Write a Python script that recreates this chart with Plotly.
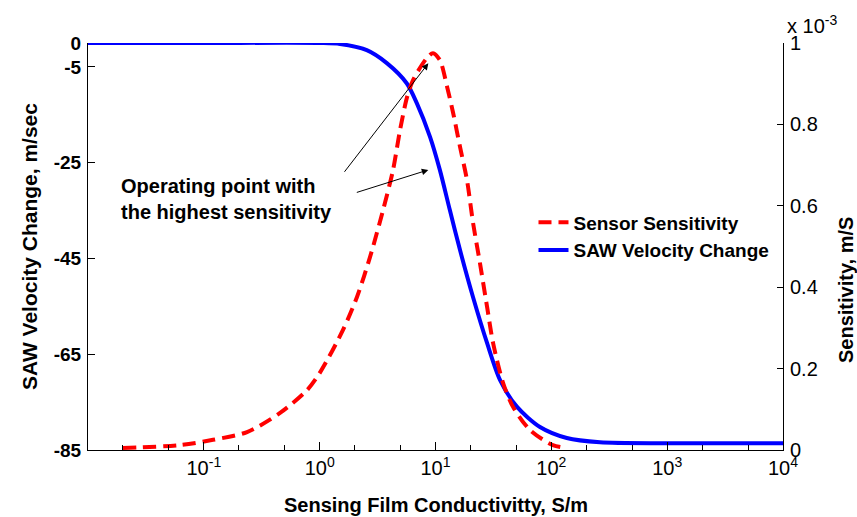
import plotly.graph_objects as go

# ---- data ----
cond_velocity = [0.01, 0.1, 1.0, 1.5, 2.55, 3.8, 5.64, 6.88, 8.97, 10.9, 13.3, 16.3,
                 21.1, 27.9, 36.1, 50.6, 79.8, 136, 263, 1000, 10000]
velocity_change = [0, 0, 0, -0.2, -1.5, -4.2, -8.4, -12.5, -19.6, -26.5, -34.9, -43.3,
                   -53.1, -62.7, -70.4, -76.0, -80.2, -82.5, -83.4, -83.6, -83.6]

cond_sens = [0.02, 0.062, 0.12, 0.236, 0.455, 0.778, 1.0, 1.59, 2.1, 2.72, 3.53, 4.3,
             4.94, 5.68, 6.4, 8.37, 9.5, 10.9, 12.6, 14.2, 16.3, 18.7, 21.1, 24.2,
             27.9, 31.4, 38.3, 46.7, 65.5, 103, 136]
sensitivity_e3 = [0.005, 0.012, 0.025, 0.044, 0.091, 0.147, 0.189, 0.295, 0.376, 0.474,
                  0.590, 0.688, 0.786, 0.867, 0.909, 0.962, 0.975, 0.958, 0.892, 0.828,
                  0.744, 0.663, 0.558, 0.459, 0.351, 0.263, 0.165, 0.106, 0.049, 0.012,
                  0.005]

x_tick_vals = [0.1, 1, 10, 100, 1000, 10000]
x_tick_text = ["10<sup>-1</sup>", "10<sup>0</sup>", "10<sup>1</sup>",
               "10<sup>2</sup>", "10<sup>3</sup>", "10<sup>4</sup>"]
left_ticks = [0, -5, -25, -45, -65, -85]
left_tick_text = ["0", "-5", "-25", "-45", "-65", "-85"]
right_ticks = [0, 0.2, 0.4, 0.6, 0.8, 1]
right_tick_text = ["0", "0.2", "0.4", "0.6", "0.8", "1"]

FONT = "Liberation Sans, Arial, sans-serif"

fig = go.Figure()
fig.add_trace(go.Scatter(
    x=cond_sens, y=sensitivity_e3, yaxis="y2", mode="lines",
    name="Sensor Sensitivity",
    line=dict(color="#FF0000", width=4, dash="13px,7px", shape="spline", smoothing=0.8),
))
fig.add_trace(go.Scatter(
    x=cond_velocity, y=velocity_change, mode="lines",
    name="SAW Velocity Change",
    line=dict(color="#0000FF", width=4, shape="spline", smoothing=0.8),
))

fig.update_layout(
    width=857, height=517,
    margin=dict(l=88, r=74, t=43, b=67),
    paper_bgcolor="white", plot_bgcolor="white",
    font=dict(family=FONT, color="black"),
    xaxis=dict(
        type="log", range=[-2, 4],
        tickvals=x_tick_vals, ticktext=x_tick_text,
        ticks="inside", ticklen=8, tickwidth=1, tickcolor="black",
        showline=True, linecolor="black", linewidth=1,
        showgrid=False, zeroline=False,
        tickfont=dict(size=20, family=FONT, color="black"),
        minor=dict(ticks="inside", ticklen=5, tickcolor="black", showgrid=False),
    ),
    yaxis=dict(
        range=[-85, 0], tickvals=left_ticks, ticktext=left_tick_text,
        ticks="inside", ticklen=7, tickcolor="black",
        showline=True, linecolor="black", linewidth=1,
        showgrid=False, zeroline=False,
        tickfont=dict(size=19, family=FONT, color="black", weight="bold"),
        ticklabelstandoff=2,
    ),
    yaxis2=dict(
        range=[0, 1], overlaying="y", side="right",
        tickvals=right_ticks, ticktext=right_tick_text,
        ticks="inside", ticklen=6, tickcolor="black",
        showline=True, linecolor="black", linewidth=1,
        showgrid=False, zeroline=False,
        tickfont=dict(size=20, family=FONT, color="black"),
        ticklabelstandoff=2,
    ),
    legend=dict(
        x=0.641, xanchor="left", y=0.606, yanchor="top",
        bgcolor="rgba(0,0,0,0)", borderwidth=0,
        font=dict(size=19, family=FONT, color="black", weight="bold"),
        tracegroupgap=0,
    ),
    showlegend=True,
)

annotations = [
    # axis titles
    dict(text="<b>Sensing Film Conductivitty, S/m</b>", xref="paper", yref="paper",
         x=0.5, y=-0.135, xanchor="center", yanchor="middle", showarrow=False,
         font=dict(size=20, family=FONT, color="black")),
    dict(text="<b>SAW Velocity Change, m/sec</b>", xref="paper", yref="paper",
         x=-0.084, y=0.5, xanchor="center", yanchor="middle", textangle=-90,
         showarrow=False, font=dict(size=21, family=FONT, color="black")),
    dict(text="<b>Sensitivity, m/S</b>", xref="paper", yref="paper",
         x=1.0906, y=0.393, xanchor="center", yanchor="middle", textangle=-90,
         showarrow=False, font=dict(size=20, family=FONT, color="black")),
    dict(text="x 10<sup>-3</sup>", xref="paper", yref="paper",
         x=1.003, y=1.045, xanchor="left", yanchor="middle", showarrow=False,
         font=dict(size=20, family=FONT, color="black")),
    # operating point text
    dict(text="<b>Operating point with<br>the highest sensitivity</b>",
         xref="paper", yref="paper", x=(119 - 88) / 695, y=(450 - 199) / 407,
         xanchor="left", yanchor="middle", align="left", showarrow=False,
         font=dict(size=20, family=FONT, color="black")),
    # arrows
    dict(text="", x=0.938, y=-4.24, xref="x", yref="y", showarrow=True,
         ax=-85, ay=110, arrowhead=2, arrowsize=1.3, arrowwidth=1, arrowcolor="black"),
    dict(text="", x=0.938, y=-26.5, xref="x", yref="y", showarrow=True,
         ax=-73, ay=23, arrowhead=2, arrowsize=1.3, arrowwidth=1, arrowcolor="black"),
]
fig.update_layout(annotations=annotations)

fig.write_html("out.html", config={"displayModeBar": False},
               post_script="document.body.style.margin='0';")
